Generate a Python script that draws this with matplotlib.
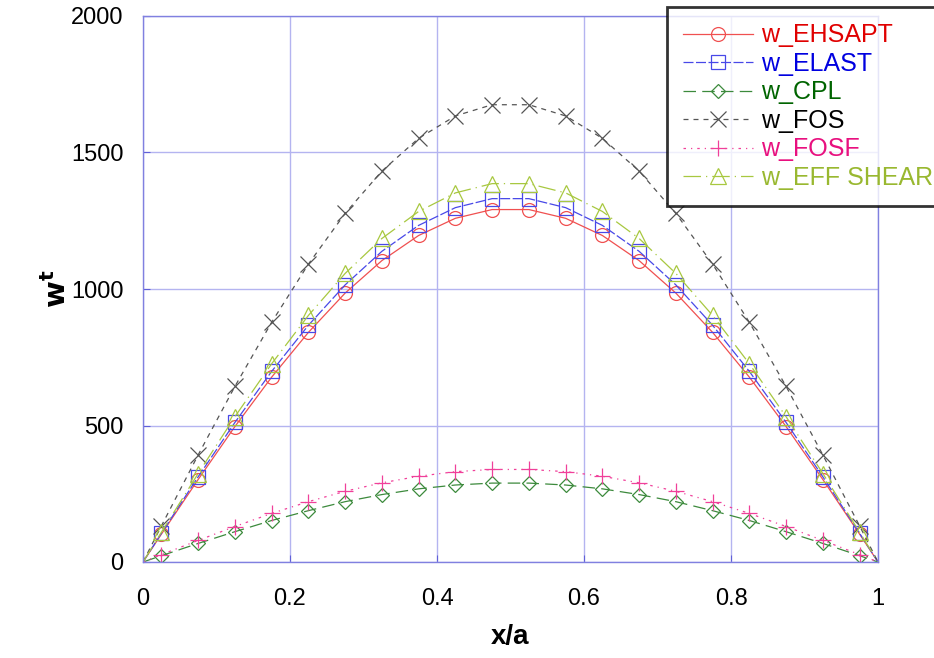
import matplotlib
matplotlib.use("Agg")
import matplotlib.pyplot as plt

# x positions: plate edges (0, 1) plus 20 sample points
x = [0.0, 0.025, 0.075, 0.125, 0.175, 0.225, 0.275, 0.325, 0.375, 0.425, 0.475,
     0.525, 0.575, 0.625, 0.675, 0.725, 0.775, 0.825, 0.875, 0.925, 0.975, 1.0]

w_ehsapt = [0, 102, 302, 496, 677, 841, 985, 1104, 1196, 1259, 1291,
            1291, 1259, 1196, 1104, 985, 841, 677, 496, 302, 102, 0]
w_elast = [0, 105, 312, 511, 698, 867, 1015, 1138, 1233, 1298, 1331,
           1331, 1298, 1233, 1138, 1015, 867, 698, 511, 312, 105, 0]
w_cpl = [0, 23, 68, 111, 152, 188, 221, 247, 268, 282, 289,
         289, 282, 268, 247, 221, 188, 152, 111, 68, 23, 0]
w_fos = [0, 132, 392, 643, 878, 1091, 1277, 1432, 1552, 1634, 1675,
         1675, 1634, 1552, 1432, 1277, 1091, 878, 643, 392, 132, 0]
w_fosf = [0, 27, 79, 130, 178, 221, 259, 290, 314, 331, 339,
          339, 331, 314, 290, 259, 221, 178, 130, 79, 27, 0]
w_eff = [0, 109, 324, 532, 726, 903, 1057, 1185, 1284, 1352, 1386,
         1386, 1352, 1284, 1185, 1057, 903, 726, 532, 324, 109, 0]

labels = ["w_EHSAPT", "w_ELAST", "w_CPL", "w_FOS", "w_FOSF", "w_EFF SHEAR"]
series = [w_ehsapt, w_elast, w_cpl, w_fos, w_fosf, w_eff]
line_colors = ["#f05050", "#4848e8", "#3c8a3c", "#555555", "#f0409a", "#a8c840"]
text_colors = ["#e00000", "#0000e0", "#006400", "#000000", "#e8107f", "#99b830"]
markers = ["o", "s", "D", "x", "+", "^"]
marker_sizes = [10, 10, 7.5, 11, 12, 11]
dashes = [(None, None), (8, 2), (10, 5), (4, 4), (2, 4, 1, 4), (14, 4, 1, 4)]

fig = plt.figure(figsize=(9.34, 6.58), dpi=100)
ax = fig.add_axes([143 / 934, 1 - 562 / 658, (878 - 143) / 934, (562 - 16) / 658])

for y, lab, lc, m, ms, d in zip(series, labels, line_colors, markers, marker_sizes, dashes):
    line, = ax.plot(x, y, color=lc, lw=0.9, marker=m, ms=ms, mfc="none", mec=lc,
                    mew=0.9, markevery=list(range(1, len(x) - 1)), label=lab)
    if d[0] is not None:
        line.set_dashes(d)

ax.set_xlim(0, 1)
ax.set_ylim(0, 2000)
ax.set_xticks([0, 0.2, 0.4, 0.6, 0.8, 1])
ax.set_xticklabels(["0", "0.2", "0.4", "0.6", "0.8", "1"])
ax.set_yticks([0, 500, 1000, 1500, 2000])
ax.grid(True, color="#b4b4f0", lw=1.0)
for s in ax.spines.values():
    s.set_color("#8080e0")
    s.set_linewidth(1.0)
ax.tick_params(direction="in", length=5, color="#6060d8")
ax.tick_params(axis="x", pad=19)
ax.tick_params(axis="y", pad=14)
for t in ax.get_yticklabels() + ax.get_xticklabels():
    t.set_fontfamily("Liberation Sans")
    t.set_fontsize(17)

ax.set_xlabel("x/a", fontsize=20, fontweight="bold", family="Liberation Sans", labelpad=10)
ax.set_ylabel(r"$\mathbf{w}^{\mathbf{t}}$", fontsize=21, rotation=90, labelpad=-1)

leg = fig.legend(loc="upper left", bbox_to_anchor=(667 / 934, 1 - 7 / 658),
                 handlelength=2.8, labelspacing=0.18, borderaxespad=0,
                 frameon=True, fancybox=False, borderpad=0.65, handletextpad=0.3,
                 prop={"family": "Liberation Sans", "size": 18})
leg.get_frame().set_edgecolor("black")
leg.get_frame().set_linewidth(2)
for t, c in zip(leg.get_texts(), text_colors):
    t.set_color(c)

fig.savefig("out.png", dpi=100)
